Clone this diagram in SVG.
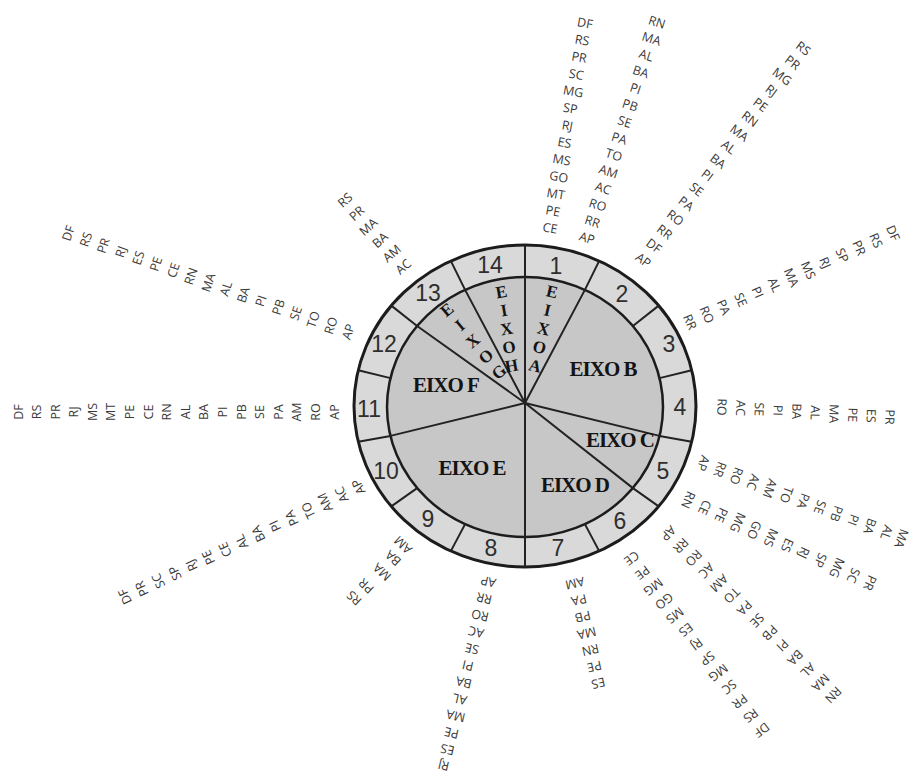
<svg xmlns="http://www.w3.org/2000/svg" width="911" height="774" viewBox="0 0 911 774">
<style>
  .ring{fill:#d9d9d9;stroke:#1c1c1c;stroke-width:3}
  .pie{fill:#c7c7c7;stroke:#1c1c1c;stroke-width:2.5}
  .div{stroke:#222;stroke-width:2;fill:none;stroke-linejoin:round}
  .num{font-family:"Liberation Sans",Arial,sans-serif;font-size:23px;fill:#2e2e2e;text-anchor:middle}
  .ax{font-family:"Liberation Serif","Times New Roman",serif;font-weight:bold;font-size:21px;letter-spacing:-1px;fill:#141414;text-anchor:middle}
  .av{font-family:"Liberation Serif","Times New Roman",serif;font-weight:bold;font-size:17px;fill:#141414;text-anchor:middle;dominant-baseline:central}
  .st{font-family:"Open Sans","Noto Sans",sans-serif;font-size:12.5px;fill:#3a3a3a;text-anchor:middle;dominant-baseline:central}
</style>
<rect width="911" height="774" fill="#ffffff"/>

<!-- disc: outer ring of 14 numbered segments and inner pie of axes -->
<g id="disc">
  <ellipse class="ring" cx="525" cy="406" rx="171" ry="161"/>
  <ellipse class="pie" cx="525" cy="407" rx="138" ry="130"/>
</g>

<!-- dividers: ring segment borders and axis spokes -->
<g id="connectors">
  <line class="div" x1="525" y1="245" x2="525" y2="567"/>
  <path class="div" d="M525 403 L584.9 289.9 L599.2 260.9"/>
  <path class="div" d="M632.9 326 L658.7 305.6"/>
  <path class="div" d="M659.5 378.1 L691.7 370.2"/>
  <path class="div" d="M525 403 L659.5 435.9 L691.7 441.8"/>
  <path class="div" d="M525 403 L632.9 488.1 L658.7 506.4"/>
  <path class="div" d="M584.9 524.1 L599.2 551.1"/>
  <path class="div" d="M465.1 524.1 L450.8 551.1"/>
  <path class="div" d="M417.1 488.1 L391.3 506.4"/>
  <path class="div" d="M525 403 L390.5 435.9 L358.3 441.8"/>
  <path class="div" d="M390.5 378.1 L358.3 370.2"/>
  <path class="div" d="M525 403 L417.1 326 L391.3 305.6"/>
  <path class="div" d="M525 403 L465.1 289.9 L450.8 260.9"/>
</g>

<!-- segment numbers -->
<g id="segments">
  <text class="num" x="556" y="274">1</text>
  <text class="num" x="622" y="302">2</text>
  <text class="num" x="669" y="352">3</text>
  <text class="num" x="680" y="415">4</text>
  <text class="num" x="663" y="479">5</text>
  <text class="num" x="620" y="529">6</text>
  <text class="num" x="558" y="556">7</text>
  <text class="num" x="491" y="556">8</text>
  <text class="num" x="428" y="527">9</text>
  <text class="num" x="386" y="479">10</text>
  <text class="num" x="369" y="417">11</text>
  <text class="num" x="384" y="352">12</text>
  <text class="num" x="428" y="301">13</text>
  <text class="num" x="490" y="273">14</text>
</g>

<!-- axis labels -->
<g id="eixo-a">
  <text class="av" transform="translate(552 292) rotate(13)">E</text>
  <text class="av" transform="translate(547.5 310.5) rotate(13)">I</text>
  <text class="av" transform="translate(543.5 329) rotate(13)">X</text>
  <text class="av" transform="translate(539.5 347.5) rotate(13)">O</text>
  <text class="av" transform="translate(535 366) rotate(13)">A</text>
</g>
<g id="eixo-b"><text class="ax" x="603" y="376">EIXO B</text></g>
<g id="eixo-c"><text class="ax" x="620" y="447">EIXO C</text></g>
<g id="eixo-d"><text class="ax" x="575" y="492">EIXO D</text></g>
<g id="eixo-e"><text class="ax" x="472" y="475">EIXO E</text></g>
<g id="eixo-f"><text class="ax" x="446" y="392">EIXO F</text></g>
<g id="eixo-g">
  <text class="av" transform="translate(447 310) rotate(-40)">E</text>
  <text class="av" transform="translate(460 325.5) rotate(-40)">I</text>
  <text class="av" transform="translate(473 341) rotate(-40)">X</text>
  <text class="av" transform="translate(486 356.5) rotate(-40)">O</text>
  <text class="av" transform="translate(499 372) rotate(-40)">G</text>
</g>
<g id="eixo-h">
  <text class="av" transform="translate(501.5 292) rotate(-10)">E</text>
  <text class="av" transform="translate(504 310.5) rotate(-10)">I</text>
  <text class="av" transform="translate(506.5 329) rotate(-10)">X</text>
  <text class="av" transform="translate(509 347.5) rotate(-10)">O</text>
  <text class="av" transform="translate(511.5 366) rotate(-10)">H</text>
</g>

<!-- state lists radiating from the ring -->
<g id="list-a">
  <text class="st" transform="translate(550 228) rotate(10)">CE</text>
  <text class="st" transform="translate(552.9 210.9) rotate(10)">PE</text>
  <text class="st" transform="translate(555.8 193.8) rotate(10)">MT</text>
  <text class="st" transform="translate(558.8 176.8) rotate(10)">GO</text>
  <text class="st" transform="translate(561.7 159.7) rotate(10)">MS</text>
  <text class="st" transform="translate(564.6 142.6) rotate(10)">ES</text>
  <text class="st" transform="translate(567.5 125.5) rotate(10)">RJ</text>
  <text class="st" transform="translate(570.4 108.4) rotate(10)">SP</text>
  <text class="st" transform="translate(573.3 91.3) rotate(10)">MG</text>
  <text class="st" transform="translate(576.3 74.3) rotate(10)">SC</text>
  <text class="st" transform="translate(579.2 57.2) rotate(10)">PR</text>
  <text class="st" transform="translate(582.1 40.1) rotate(10)">RS</text>
  <text class="st" transform="translate(585 23) rotate(10)">DF</text>
</g>
<g id="list-b">
  <text class="st" transform="translate(587 238) rotate(18)">AP</text>
  <text class="st" transform="translate(592.4 221.4) rotate(18)">RR</text>
  <text class="st" transform="translate(597.8 204.8) rotate(18)">RO</text>
  <text class="st" transform="translate(603.2 188.2) rotate(18)">AC</text>
  <text class="st" transform="translate(608.5 171.5) rotate(18)">AM</text>
  <text class="st" transform="translate(613.9 154.9) rotate(18)">TO</text>
  <text class="st" transform="translate(619.3 138.3) rotate(18)">PA</text>
  <text class="st" transform="translate(624.7 121.7) rotate(18)">SE</text>
  <text class="st" transform="translate(630.1 105.1) rotate(18)">PB</text>
  <text class="st" transform="translate(635.5 88.5) rotate(18)">PI</text>
  <text class="st" transform="translate(640.8 71.8) rotate(18)">BA</text>
  <text class="st" transform="translate(646.2 55.2) rotate(18)">AL</text>
  <text class="st" transform="translate(651.6 38.6) rotate(18)">MA</text>
  <text class="st" transform="translate(657 22) rotate(18)">RN</text>
</g>
<g id="list-c">
  <text class="st" transform="translate(643.3 260) rotate(37)">AP</text>
  <text class="st" transform="translate(654 245.9) rotate(37)">DF</text>
  <text class="st" transform="translate(664.6 231.8) rotate(37)">RR</text>
  <text class="st" transform="translate(675.3 217.7) rotate(37)">RO</text>
  <text class="st" transform="translate(686 203.5) rotate(37)">PA</text>
  <text class="st" transform="translate(696.6 189.4) rotate(37)">SE</text>
  <text class="st" transform="translate(707.3 175.3) rotate(37)">PI</text>
  <text class="st" transform="translate(718 161.2) rotate(37)">BA</text>
  <text class="st" transform="translate(728.6 147.1) rotate(37)">AL</text>
  <text class="st" transform="translate(739.3 133) rotate(37)">MA</text>
  <text class="st" transform="translate(750 118.9) rotate(37)">RN</text>
  <text class="st" transform="translate(760.6 104.8) rotate(37)">PE</text>
  <text class="st" transform="translate(771.3 90.6) rotate(37)">RJ</text>
  <text class="st" transform="translate(782 76.5) rotate(37)">MG</text>
  <text class="st" transform="translate(792.6 62.4) rotate(37)">PR</text>
  <text class="st" transform="translate(803.3 48.3) rotate(37)">RS</text>
</g>
<g id="list-d">
  <text class="st" transform="translate(690 322) rotate(66)">RR</text>
  <text class="st" transform="translate(706.9 314.6) rotate(66)">RO</text>
  <text class="st" transform="translate(723.8 307.2) rotate(66)">PA</text>
  <text class="st" transform="translate(740.8 299.8) rotate(66)">SE</text>
  <text class="st" transform="translate(757.7 292.3) rotate(66)">PI</text>
  <text class="st" transform="translate(774.6 284.9) rotate(66)">AL</text>
  <text class="st" transform="translate(791.5 277.5) rotate(66)">MA</text>
  <text class="st" transform="translate(808.4 270.1) rotate(66)">MS</text>
  <text class="st" transform="translate(825.3 262.7) rotate(66)">RJ</text>
  <text class="st" transform="translate(842.3 255.3) rotate(66)">SP</text>
  <text class="st" transform="translate(859.2 247.8) rotate(66)">PR</text>
  <text class="st" transform="translate(876.1 240.4) rotate(66)">RS</text>
  <text class="st" transform="translate(893 233) rotate(66)">DF</text>
</g>
<g id="list-e">
  <text class="st" transform="translate(722 407) rotate(92)">RO</text>
  <text class="st" transform="translate(740.7 408.1) rotate(92)">AC</text>
  <text class="st" transform="translate(759.3 409.2) rotate(92)">SE</text>
  <text class="st" transform="translate(778 410.3) rotate(92)">PI</text>
  <text class="st" transform="translate(796.7 411.4) rotate(92)">BA</text>
  <text class="st" transform="translate(815.3 412.6) rotate(92)">AL</text>
  <text class="st" transform="translate(834 413.7) rotate(92)">MA</text>
  <text class="st" transform="translate(852.7 414.8) rotate(92)">PE</text>
  <text class="st" transform="translate(871.3 415.9) rotate(92)">ES</text>
  <text class="st" transform="translate(890 417) rotate(92)">PR</text>
</g>
<g id="list-f">
  <text class="st" transform="translate(703.3 463.3) rotate(110)">AP</text>
  <text class="st" transform="translate(720 469.6) rotate(110)">RR</text>
  <text class="st" transform="translate(736.6 475.9) rotate(110)">RO</text>
  <text class="st" transform="translate(753.3 482.2) rotate(110)">AC</text>
  <text class="st" transform="translate(770 488.5) rotate(110)">AM</text>
  <text class="st" transform="translate(786.6 494.8) rotate(110)">TO</text>
  <text class="st" transform="translate(803.3 501.1) rotate(110)">PA</text>
  <text class="st" transform="translate(820 507.4) rotate(110)">SE</text>
  <text class="st" transform="translate(836.6 513.7) rotate(110)">PB</text>
  <text class="st" transform="translate(853.3 520) rotate(110)">PI</text>
  <text class="st" transform="translate(870 526.3) rotate(110)">BA</text>
  <text class="st" transform="translate(886.6 532.6) rotate(110)">AL</text>
  <text class="st" transform="translate(901.5 538.5) rotate(110)">MA</text>
</g>
<g id="list-g">
  <text class="st" transform="translate(688.3 500) rotate(114)">RN</text>
  <text class="st" transform="translate(704.8 507.5) rotate(114)">CE</text>
  <text class="st" transform="translate(721.3 515.1) rotate(114)">PE</text>
  <text class="st" transform="translate(737.9 522.6) rotate(114)">MG</text>
  <text class="st" transform="translate(754.4 530.2) rotate(114)">GO</text>
  <text class="st" transform="translate(770.9 537.7) rotate(114)">MS</text>
  <text class="st" transform="translate(787.4 545.3) rotate(114)">ES</text>
  <text class="st" transform="translate(803.9 552.8) rotate(114)">RJ</text>
  <text class="st" transform="translate(820.5 560.4) rotate(114)">SP</text>
  <text class="st" transform="translate(837 567.9) rotate(114)">MG</text>
  <text class="st" transform="translate(853.5 575.5) rotate(114)">SC</text>
  <text class="st" transform="translate(870 583) rotate(114)">PR</text>
</g>
<g id="list-h">
  <text class="st" transform="translate(668.3 533.3) rotate(135)">AP</text>
  <text class="st" transform="translate(681 545.7) rotate(135)">RR</text>
  <text class="st" transform="translate(693.7 558.2) rotate(135)">RO</text>
  <text class="st" transform="translate(706.4 570.6) rotate(135)">AC</text>
  <text class="st" transform="translate(719.1 583.1) rotate(135)">AM</text>
  <text class="st" transform="translate(731.8 595.5) rotate(135)">TO</text>
  <text class="st" transform="translate(744.5 607.9) rotate(135)">PA</text>
  <text class="st" transform="translate(757.1 620.4) rotate(135)">SE</text>
  <text class="st" transform="translate(769.8 632.8) rotate(135)">PB</text>
  <text class="st" transform="translate(782.5 645.3) rotate(135)">PI</text>
  <text class="st" transform="translate(795.2 657.7) rotate(135)">BA</text>
  <text class="st" transform="translate(807.9 670.1) rotate(135)">AL</text>
  <text class="st" transform="translate(820.6 682.6) rotate(135)">MA</text>
  <text class="st" transform="translate(833.3 695) rotate(135)">RN</text>
</g>
<g id="list-i">
  <text class="st" transform="translate(631.7 558.3) rotate(143)">CE</text>
  <text class="st" transform="translate(642.5 572.6) rotate(143)">PE</text>
  <text class="st" transform="translate(653.4 586.9) rotate(143)">MG</text>
  <text class="st" transform="translate(664.2 601.2) rotate(143)">GO</text>
  <text class="st" transform="translate(675 615.5) rotate(143)">MS</text>
  <text class="st" transform="translate(685.9 629.8) rotate(143)">ES</text>
  <text class="st" transform="translate(696.7 644.2) rotate(143)">RJ</text>
  <text class="st" transform="translate(707.5 658.5) rotate(143)">SP</text>
  <text class="st" transform="translate(718.4 672.8) rotate(143)">MG</text>
  <text class="st" transform="translate(729.2 687.1) rotate(143)">SC</text>
  <text class="st" transform="translate(740 701.4) rotate(143)">PR</text>
  <text class="st" transform="translate(750.9 715.7) rotate(143)">RS</text>
  <text class="st" transform="translate(761.7 730) rotate(143)">DF</text>
</g>
<g id="list-j">
  <text class="st" transform="translate(575 583.3) rotate(167)">AM</text>
  <text class="st" transform="translate(578.9 600) rotate(167)">PA</text>
  <text class="st" transform="translate(582.8 616.6) rotate(167)">PB</text>
  <text class="st" transform="translate(586.7 633.3) rotate(167)">MA</text>
  <text class="st" transform="translate(590.5 650) rotate(167)">RN</text>
  <text class="st" transform="translate(594.4 666.6) rotate(167)">PE</text>
  <text class="st" transform="translate(598.3 683.3) rotate(167)">ES</text>
</g>
<g id="list-k">
  <text class="st" transform="translate(488.3 581.7) rotate(193)">AP</text>
  <text class="st" transform="translate(484.2 598.5) rotate(193)">RR</text>
  <text class="st" transform="translate(480.1 615.3) rotate(193)">RO</text>
  <text class="st" transform="translate(476 632.1) rotate(193)">AC</text>
  <text class="st" transform="translate(471.9 648.9) rotate(193)">SE</text>
  <text class="st" transform="translate(467.8 665.7) rotate(193)">PI</text>
  <text class="st" transform="translate(463.8 682.5) rotate(193)">BA</text>
  <text class="st" transform="translate(459.7 699.3) rotate(193)">AL</text>
  <text class="st" transform="translate(455.6 716.1) rotate(193)">MA</text>
  <text class="st" transform="translate(451.5 732.9) rotate(193)">PE</text>
  <text class="st" transform="translate(447.4 749.7) rotate(193)">ES</text>
  <text class="st" transform="translate(443.5 765.5) rotate(193)">RJ</text>
</g>
<g id="list-l">
  <text class="st" transform="translate(403 545) rotate(223)">AM</text>
  <text class="st" transform="translate(393 558) rotate(223)">BA</text>
  <text class="st" transform="translate(382 572) rotate(223)">MA</text>
  <text class="st" transform="translate(366 586) rotate(223)">PR</text>
  <text class="st" transform="translate(354 598) rotate(223)">RS</text>
</g>
<g id="list-m">
  <text class="st" transform="translate(358.3 486.7) rotate(245)">AP</text>
  <text class="st" transform="translate(341.6 494.6) rotate(245)">AC</text>
  <text class="st" transform="translate(325 502.4) rotate(245)">AM</text>
  <text class="st" transform="translate(308.3 510.3) rotate(245)">TO</text>
  <text class="st" transform="translate(291.7 518.1) rotate(245)">PA</text>
  <text class="st" transform="translate(275 526) rotate(245)">PI</text>
  <text class="st" transform="translate(258.3 533.8) rotate(245)">BA</text>
  <text class="st" transform="translate(241.7 541.7) rotate(245)">AL</text>
  <text class="st" transform="translate(225 549.6) rotate(245)">CE</text>
  <text class="st" transform="translate(208.3 557.4) rotate(245)">PE</text>
  <text class="st" transform="translate(191.7 565.3) rotate(245)">RJ</text>
  <text class="st" transform="translate(175 573.1) rotate(245)">SP</text>
  <text class="st" transform="translate(158.3 581) rotate(245)">SC</text>
  <text class="st" transform="translate(141.7 588.8) rotate(245)">PR</text>
  <text class="st" transform="translate(125 596.7) rotate(245)">DF</text>
</g>
<g id="list-n">
  <text class="st" transform="translate(334 412) rotate(270)">AP</text>
  <text class="st" transform="translate(315.4 412) rotate(270)">RO</text>
  <text class="st" transform="translate(296.8 412) rotate(270)">AM</text>
  <text class="st" transform="translate(278.2 412) rotate(270)">PA</text>
  <text class="st" transform="translate(259.6 412) rotate(270)">SE</text>
  <text class="st" transform="translate(241.1 412) rotate(270)">PB</text>
  <text class="st" transform="translate(222.5 412) rotate(270)">PI</text>
  <text class="st" transform="translate(203.9 412) rotate(270)">BA</text>
  <text class="st" transform="translate(185.3 412) rotate(270)">AL</text>
  <text class="st" transform="translate(166.7 412) rotate(270)">RN</text>
  <text class="st" transform="translate(148.1 412) rotate(270)">CE</text>
  <text class="st" transform="translate(129.5 412) rotate(270)">PE</text>
  <text class="st" transform="translate(110.9 412) rotate(270)">MT</text>
  <text class="st" transform="translate(92.4 412) rotate(270)">MS</text>
  <text class="st" transform="translate(73.8 412) rotate(270)">RJ</text>
  <text class="st" transform="translate(55.2 412) rotate(270)">PR</text>
  <text class="st" transform="translate(36.6 412) rotate(270)">RS</text>
  <text class="st" transform="translate(18 412) rotate(270)">DF</text>
</g>
<g id="list-o">
  <text class="st" transform="translate(348.3 331.7) rotate(289)">AP</text>
  <text class="st" transform="translate(330.8 325.5) rotate(289)">RO</text>
  <text class="st" transform="translate(313.3 319.4) rotate(289)">TO</text>
  <text class="st" transform="translate(295.8 313.2) rotate(289)">SE</text>
  <text class="st" transform="translate(278.3 307.1) rotate(289)">PB</text>
  <text class="st" transform="translate(260.8 300.9) rotate(289)">PI</text>
  <text class="st" transform="translate(243.3 294.8) rotate(289)">BA</text>
  <text class="st" transform="translate(225.8 288.6) rotate(289)">AL</text>
  <text class="st" transform="translate(208.3 282.5) rotate(289)">MA</text>
  <text class="st" transform="translate(190.8 276.3) rotate(289)">RN</text>
  <text class="st" transform="translate(173.3 270.2) rotate(289)">CE</text>
  <text class="st" transform="translate(155.8 264) rotate(289)">PE</text>
  <text class="st" transform="translate(138.3 257.9) rotate(289)">ES</text>
  <text class="st" transform="translate(120.8 251.7) rotate(289)">RJ</text>
  <text class="st" transform="translate(103.3 245.6) rotate(289)">PR</text>
  <text class="st" transform="translate(85.8 239.4) rotate(289)">RS</text>
  <text class="st" transform="translate(68.3 233.3) rotate(289)">DF</text>
</g>
<g id="list-p">
  <text class="st" transform="translate(403.3 266.7) rotate(319)">AC</text>
  <text class="st" transform="translate(391.7 253.3) rotate(319)">AM</text>
  <text class="st" transform="translate(380 240) rotate(319)">BA</text>
  <text class="st" transform="translate(368.3 226.7) rotate(319)">MA</text>
  <text class="st" transform="translate(356.7 213.3) rotate(319)">PR</text>
  <text class="st" transform="translate(345 200) rotate(319)">RS</text>
</g>
</svg>
